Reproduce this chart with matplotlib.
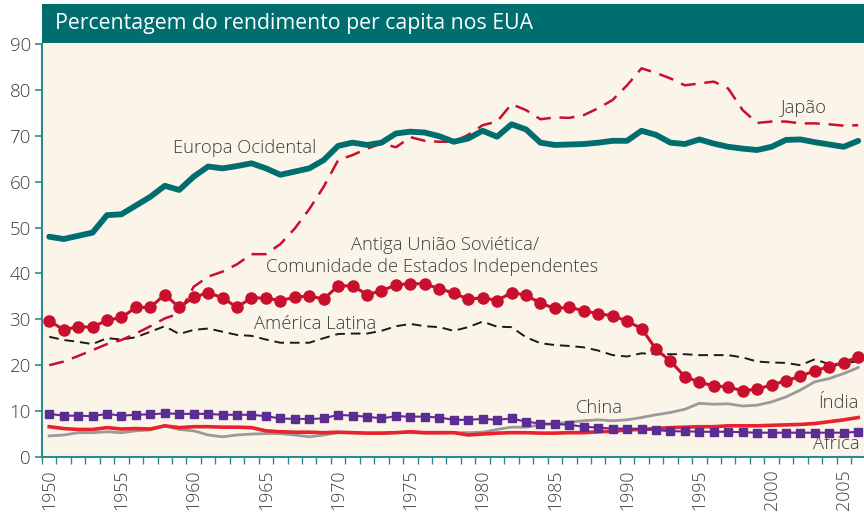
import numpy as np
import matplotlib.pyplot as plt
from matplotlib.patches import Rectangle

years = list(range(1950, 2007))

europa = [48.0, 47.5, 48.2, 48.9, 52.7, 52.9, 54.8, 56.7, 59.1, 58.2,
          61.1, 63.3, 62.9, 63.4, 64.0, 62.9, 61.5, 62.2, 62.9, 64.7,
          67.8, 68.5, 68.0, 68.5, 70.5, 70.9, 70.7, 69.9, 68.7, 69.4,
          71.1, 69.8, 72.5, 71.4, 68.5, 68.0, 68.1, 68.2, 68.5, 68.9,
          68.9, 71.1, 70.2, 68.5, 68.2, 69.2, 68.3, 67.6, 67.2, 66.9,
          67.6, 69.1, 69.2, 68.6, 68.1, 67.6, 68.9]
japao = [20.0, 20.8, 22.0, 23.3, 24.6, 25.5, 26.9, 28.5, 30.2, 31.3,
         37.1, 39.3, 40.4, 42.0, 44.2, 44.2, 46.4, 49.8, 54.0, 58.9,
         64.7, 65.8, 67.2, 68.3, 67.5, 69.7, 68.9, 68.7, 68.7, 70.2,
         72.3, 73.1, 76.9, 75.6, 73.6, 74.0, 73.9, 74.5, 76.0, 77.8,
         81.0, 84.7, 83.7, 82.5, 81.0, 81.4, 81.8, 80.3, 75.6, 72.8,
         73.1, 73.1, 72.7, 72.7, 72.5, 72.2, 72.3]
sovietica = [29.7, 27.7, 28.4, 28.3, 29.8, 30.4, 32.6, 32.6, 35.4, 32.6,
             34.8, 35.8, 34.7, 32.6, 34.7, 34.6, 34.1, 34.8, 35.1, 34.4,
             37.3, 37.3, 35.4, 36.2, 37.5, 37.8, 37.7, 36.7, 35.7, 34.4,
             34.7, 34.1, 35.8, 35.3, 33.5, 32.4, 32.6, 31.9, 31.2, 30.8,
             29.6, 28.0, 23.5, 20.9, 17.5, 16.3, 15.5, 15.3, 14.4, 14.8,
             15.7, 16.6, 17.6, 18.8, 19.7, 20.5, 21.9]
america_latina = [26.2, 25.5, 25.1, 24.6, 25.9, 25.6, 26.1, 27.3, 28.5, 26.8,
                  27.7, 28.0, 27.3, 26.6, 26.4, 25.6, 24.9, 24.9, 24.9, 25.9,
                  26.8, 26.9, 26.9, 27.5, 28.5, 29.0, 28.5, 28.3, 27.5, 28.3,
                  29.5, 28.4, 28.3, 26.1, 24.8, 24.4, 24.2, 23.9, 23.2, 22.2,
                  21.9, 22.6, 22.4, 22.4, 22.4, 22.2, 22.2, 22.2, 21.7, 20.8,
                  20.6, 20.5, 20.0, 21.3, 20.2, 20.4, 20.9]
china = [4.6, 4.8, 5.3, 5.3, 5.5, 5.3, 5.7, 5.9, 6.8, 6.0,
         5.7, 4.8, 4.4, 4.8, 5.0, 5.1, 5.1, 4.8, 4.4, 4.8,
         5.3, 5.3, 5.2, 5.2, 5.3, 5.3, 5.2, 5.2, 5.3, 5.3,
         5.4, 6.0, 6.5, 6.5, 7.0, 7.2, 7.6, 7.9, 8.1, 7.9,
         8.1, 8.6, 9.2, 9.7, 10.4, 11.7, 11.5, 11.6, 11.1, 11.3,
         12.0, 13.1, 14.6, 16.4, 17.1, 18.2, 19.5]
india = [6.6, 6.2, 6.0, 6.0, 6.4, 6.1, 6.2, 6.1, 6.8, 6.4,
         6.6, 6.6, 6.5, 6.5, 6.4, 5.7, 5.5, 5.4, 5.4, 5.3,
         5.4, 5.3, 5.2, 5.2, 5.3, 5.5, 5.3, 5.3, 5.3, 4.8,
         5.0, 5.2, 5.3, 5.3, 5.2, 5.2, 5.3, 5.3, 5.5, 5.6,
         5.9, 6.0, 6.2, 6.4, 6.5, 6.6, 6.6, 6.8, 6.8, 6.8,
         6.9, 7.0, 7.1, 7.3, 7.7, 8.1, 8.6]
africa = [9.4, 9.0, 9.0, 8.9, 9.4, 9.0, 9.2, 9.3, 9.5, 9.4,
          9.4, 9.4, 9.2, 9.2, 9.2, 8.9, 8.4, 8.3, 8.3, 8.4,
          9.2, 9.0, 8.8, 8.4, 8.9, 8.8, 8.8, 8.6, 8.1, 8.1,
          8.3, 8.1, 8.4, 7.7, 7.3, 7.2, 7.0, 6.6, 6.4, 6.2,
          6.2, 6.1, 5.9, 5.6, 5.6, 5.5, 5.5, 5.5, 5.4, 5.3,
          5.3, 5.3, 5.3, 5.3, 5.3, 5.3, 5.5]

titulo = "Percentagem do rendimento per capita nos EUA"
yticks = [0, 10, 20, 30, 40, 50, 60, 70, 80, 90]
xlabels = list(range(1950, 2006, 5))

TEAL = "#006d6f"
SPINE = "#2e8b8b"
CRIMSON = "#c8102e"
TXT = "#3d3d3d"

plt.rcParams["font.family"] = ["Open Sans", "DejaVu Sans"]

fig = plt.figure(figsize=(8.64, 5.17), dpi=100)
fig.patch.set_facecolor("white")
ax = fig.add_axes([42 / 864, 1 - 457 / 517, 822 / 864, 413 / 517])
ax.set_facecolor("#fbf4e8")

# barra do título
fig.patches.append(Rectangle((42 / 864, 1 - 43 / 517), 822 / 864, 39 / 517,
                             transform=fig.transFigure, facecolor=TEAL,
                             edgecolor="none", zorder=5))
fig.text(55 / 864, 1 - 23 / 517, titulo, color="white", fontsize=15.3,
         va="center", ha="left", zorder=6)

ax.plot(years, china, color="#9a9a9a", lw=2.0, zorder=2)
ax.plot(years, india, color="#e8232b", lw=2.6, zorder=3)
ax.plot(years, africa, color="#5b2c91", lw=1.5, marker="s", ms=5.5, zorder=4)
ax.plot(years, america_latina, color="#1a1a1a", lw=1.4, dashes=(5, 3), zorder=3)
ax.plot(years, japao, color=CRIMSON, lw=1.8, dashes=(6, 3.5), zorder=3)
ax.plot(years, sovietica, color=CRIMSON, lw=2.2, marker="o", ms=8, zorder=4)
ax.plot(years, europa, color=TEAL, lw=4.2, solid_capstyle="round", zorder=5)

lab = dict(color=TXT, fontsize=13.2, ha="center", va="center",
           fontweight="light")
ax.text(1963.5, 67.3, "Europa Ocidental", **lab)
ax.text(2002.2, 76.0, "Japão", **lab)
ax.text(1977.4, 46.2, "Antiga União Soviética/", **lab)
ax.text(1976.5, 41.4, "Comunidade de Estados Independentes", **lab)
ax.text(1968.4, 29.0, "América Latina", **lab)
ax.text(1988.1, 10.7, "China", **lab)
ax.text(2004.6, 11.8, "Índia", **lab)
ax.text(2004.5, 2.8, "África", **lab)

ax.set_xlim(1949.5, 2006.4)
ax.set_ylim(0, 90)

ax.set_yticks(yticks)
ax.set_yticklabels([str(v) for v in yticks], fontsize=13.5, color=TXT,
                   fontweight="light")
ax.tick_params(axis="y", length=5, width=1.2, color=SPINE, pad=3)

ax.set_xticks(xlabels)
ax.set_xticklabels([str(v) for v in xlabels], rotation=90, fontsize=12.8,
                   color=TXT, fontweight="light")
ax.tick_params(axis="x", which="major", length=0, pad=9)
ax.set_xticks(np.arange(1949.5, 2006.5, 1), minor=True)
ax.tick_params(axis="x", which="minor", length=5, width=1.0, color=SPINE,
               direction="out")

for s in ["top", "right"]:
    ax.spines[s].set_visible(False)
for s in ["left", "bottom"]:
    ax.spines[s].set_color(SPINE)
    ax.spines[s].set_linewidth(1.5)

fig.savefig("out.png", dpi=100)
